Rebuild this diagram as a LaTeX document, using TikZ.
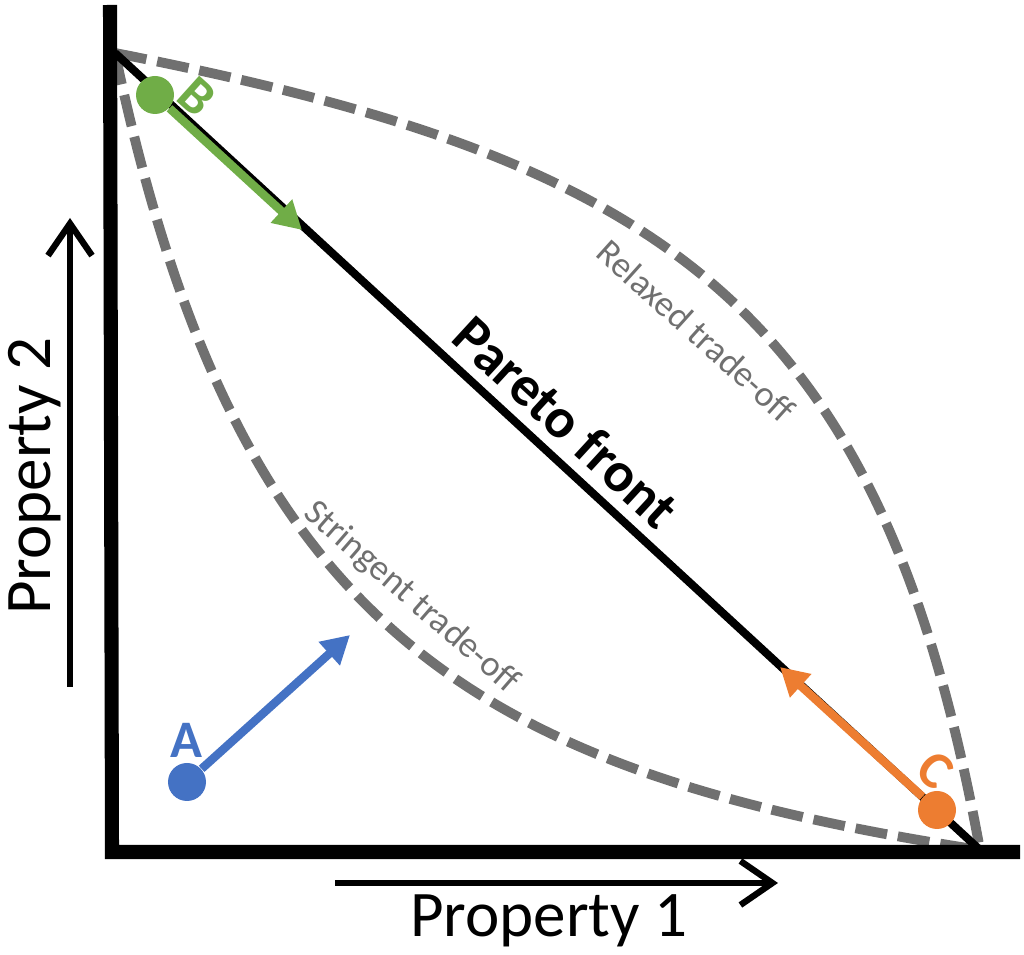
\documentclass[tikz,border=0pt]{standalone}
\usepackage{fontspec}
\setmainfont{Carlito}
\usetikzlibrary{arrows.meta}
\definecolor{ptgreen}{RGB}{112,173,71}
\definecolor{ptblue}{RGB}{68,114,196}
\definecolor{ptorange}{RGB}{237,125,49}
\definecolor{ptgray}{RGB}{112,112,112}

\begin{document}
\begin{tikzpicture}[
  axisline/.style={line width=4pt, line join=miter},
  proparrow/.style={line width=1.8pt, -{Straight Barb[length=0.32cm,width=0.44cm]}},
  tradeoff/.style={ptgray, line width=2.8pt, dash pattern=on 0.32cm off 0.11cm},
  movearrow/.style={line width=2.4pt, -{Triangle[length=0.28cm,width=0.3cm]}},
  ptdot/.style={circle, inner sep=0pt, minimum size=0.38cm},
  ptletter/.style={font=\bfseries\fontsize{15}{18}\selectfont},
  curvelabel/.style={ptgray, font=\fontsize{10.3}{12}\selectfont, anchor=base},
  axislabel/.style={font=\fontsize{18.5}{22}\selectfont, anchor=base}
]
\useasboundingbox (0,0) rectangle (10.24,9.55);
        \coordinate (top) at (1.15,9.02);
        \coordinate (bot) at (9.80,1.05);
        \coordinate (ytop) at (1.10,9.50);
        \coordinate (orig) at (1.12,1.03);
        \coordinate (xend) at (10.20,1.03);
        % trade-off curves
        \draw[tradeoff] (top) .. controls (6.60,7.95) and (8.80,6.55) .. (bot);
        \draw[tradeoff] (top) .. controls (2.35,3.35) and (4.60,1.85) .. (bot);
        \draw[line width=2.3pt] (top) -- (bot);
        \draw[axisline] (ytop) -- (orig) -- (xend);
        % property arrows
        \coordinate (p2s) at (0.70,2.68);
        \coordinate (p2e) at (0.70,7.37);
        \coordinate (p1s) at (3.35,0.72);
        \coordinate (p1e) at (7.78,0.72);
        \draw[proparrow] (p2s) -- (p2e);
        \draw[proparrow] (p1s) -- (p1e);
        \node[axislabel, rotate=90] (prop2) at (0.50,4.79) {Property 2};
        \node[axislabel] (prop1) at (5.49,0.18) {Property 1};
        % points and moves
        \node[ptdot, fill=ptblue] (A) at (1.87,1.73) {};
        \node[ptdot, fill=ptgreen] (B) at (1.55,8.60) {};
        \node[ptdot, fill=ptorange] (C) at (9.37,1.45) {};
        \coordinate (Atip) at (3.50,3.20);
        \coordinate (Btip) at (3.02,7.25);
        \coordinate (Ctip) at (7.80,2.88);
        \draw[movearrow, ptblue] (A) -- (Atip);
        \draw[movearrow, ptgreen] (B) -- (Btip);
        \draw[movearrow, ptorange] (C) -- (Ctip);
        \node[ptletter, ptblue] (Alab) at (1.86,2.15) {A};
        \node[ptletter, ptgreen, rotate=-42] (Blab) at (1.97,8.58) {B};
        \node[ptletter, ptorange, rotate=-42] (Clab) at (9.35,1.85) {C};
        % labels
        \node[font=\bfseries\fontsize{16}{18}\selectfont, anchor=base, rotate=-42.6] (pareto) at (5.53,5.19) {Pareto front};
        \node[curvelabel, rotate=-42] (relaxed) at (6.88,6.15) {Relaxed trade-off};
        \node[curvelabel, rotate=-41] (stringent) at (4.05,3.50) {Stringent trade-off};
\end{tikzpicture}
\end{document}
